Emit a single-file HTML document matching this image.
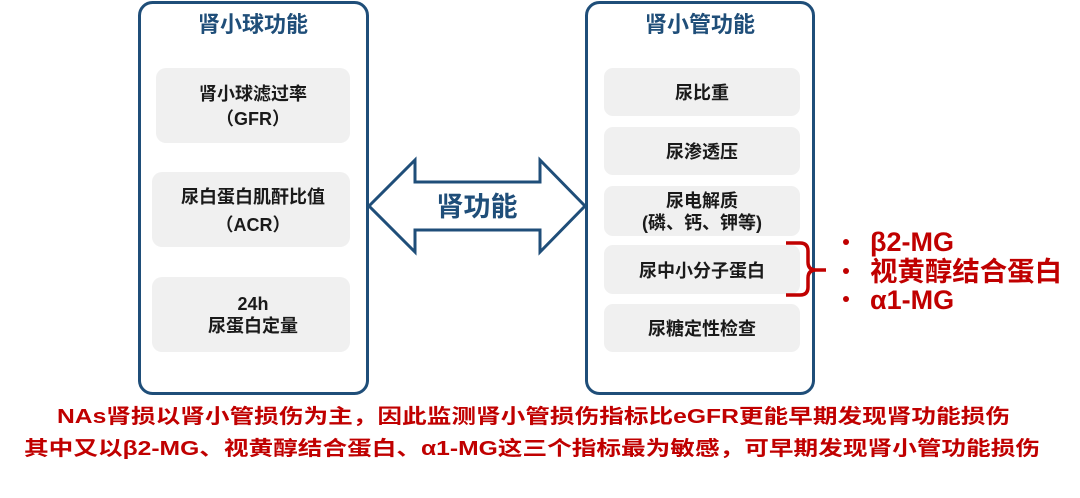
<!DOCTYPE html>
<html><head><meta charset="utf-8"><style>
html,body{margin:0;padding:0;background:#fff;}
svg{display:block;}
text{font-family:"Liberation Sans","Noto Sans CJK SC",sans-serif;}
</style></head><body>
<svg width="1080" height="498" viewBox="0 0 1080 498" xmlns="http://www.w3.org/2000/svg">
<rect x="139.5" y="2.5" width="228" height="391" rx="13" fill="#fff" stroke="#1f4e79" stroke-width="3"/>
<text x="253" y="32" font-size="22" fill="#1f4e79" text-anchor="middle" font-weight="bold">肾小球功能</text>
<rect x="156" y="68" width="194" height="75" rx="10" fill="#f0f0f0"/>
<rect x="152" y="172" width="198" height="75" rx="10" fill="#f0f0f0"/>
<rect x="152" y="277" width="198" height="75" rx="10" fill="#f0f0f0"/>
<g font-size="18" fill="#1a1a1a" font-weight="bold" text-anchor="middle">
<text x="253" y="100">肾小球滤过率</text>
<text x="253" y="125">（GFR）</text>
<text x="253" y="203">尿白蛋白肌酐比值</text>
<text x="253" y="231">（ACR）</text>
<text x="253" y="310">24h</text>
<text x="253" y="332">尿蛋白定量</text>
</g>
<rect x="586.5" y="2.5" width="227" height="391" rx="13" fill="#fff" stroke="#1f4e79" stroke-width="3"/>
<text x="700" y="32" font-size="22" fill="#1f4e79" text-anchor="middle" font-weight="bold">肾小管功能</text>
<rect x="604" y="68" width="196" height="48" rx="9" fill="#f0f0f0"/>
<rect x="604" y="127" width="196" height="48" rx="9" fill="#f0f0f0"/>
<rect x="604" y="186" width="196" height="50" rx="9" fill="#f0f0f0"/>
<rect x="604" y="245" width="196" height="49" rx="9" fill="#f0f0f0"/>
<rect x="604" y="304" width="196" height="48" rx="9" fill="#f0f0f0"/>
<g font-size="18" fill="#1a1a1a" font-weight="bold" text-anchor="middle">
<text x="702" y="99">尿比重</text>
<text x="702" y="158">尿渗透压</text>
<text x="702" y="207">尿电解质</text>
<text x="702" y="229">(磷、钙、钾等)</text>
<text x="702" y="277">尿中小分子蛋白</text>
<text x="702" y="335">尿糖定性检查</text>
</g>
<polygon points="369,206 415,160 415,182 540,182 540,160 585,206 540,252 540,230 415,230 415,252" fill="#fff" stroke="#1f4e79" stroke-width="3" stroke-linejoin="miter"/>
<text x="477" y="216" font-size="27" fill="#1f4e79" text-anchor="middle" font-weight="bold">肾功能</text>
<path d="M786,243 H800 Q808,243 808,251 V262 Q808,270 816,270 H826 M816,270 Q808,270 808,278 V287 Q808,295 800,295 H786" fill="none" stroke="#c00000" stroke-width="3.5"/>
<g fill="#c00000" font-weight="bold">
<circle cx="846" cy="242" r="3"/>
<circle cx="846" cy="271" r="3"/>
<circle cx="846" cy="299" r="3"/>
<text x="870" y="251" font-size="27">β2-MG</text>
<text x="870" y="281" font-size="27" textLength="192" lengthAdjust="spacingAndGlyphs">视黄醇结合蛋白</text>
<text x="870" y="309" font-size="27">α1-MG</text>
</g>
<g font-size="20" fill="#c00000" font-weight="bold">
<text x="57" y="423" textLength="953" lengthAdjust="spacingAndGlyphs">NAs肾损以肾小管损伤为主，因此监测肾小管损伤指标比eGFR更能早期发现肾功能损伤</text>
<text x="24" y="455" textLength="1016" lengthAdjust="spacingAndGlyphs">其中又以β2-MG、视黄醇结合蛋白、α1-MG这三个指标最为敏感，可早期发现肾小管功能损伤</text>
</g>
</svg>
</body></html>
